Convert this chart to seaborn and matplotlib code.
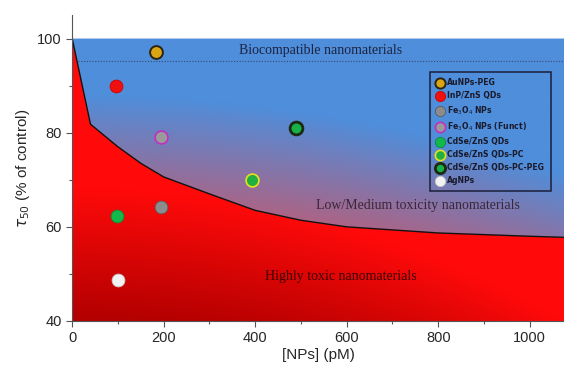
import numpy as np
import matplotlib
matplotlib.use('Agg')
import matplotlib.pyplot as plt
from matplotlib.patches import Polygon
from matplotlib.colors import to_rgb
import seaborn as sns

# nanoparticle points
names = ['AuNPs-PEG', 'InP/ZnS QDs', r'Fe$_3$O$_4$ NPs', r'Fe$_3$O$_4$ NPs (Funct)',
         'CdSe/ZnS QDs', 'CdSe/ZnS QDs-PC', 'CdSe/ZnS QDs-PC-PEG', 'AgNPs']
conc = [183, 96, 194, 194, 98, 392, 490, 100]
tau50 = [97.2, 90.0, 64.2, 79.0, 62.2, 70.0, 81.0, 48.8]
face = ['#d9a514', '#f01010', '#8c8c8c', '#9a9a9a', '#12b84a', '#20b040', '#18b048', '#f2f2f2']
edge = ['#2a2410', '#d00000', '#5a5a5a', '#c030c0', '#0c8a38', '#e8e020', '#1c2a10', '#c8c8c8']
edgew = [1.4, 0.6, 0.6, 1.2, 0.6, 1.2, 2.0, 0.6]

# border between highly toxic and low/medium toxicity regions
boundary_x = [0, 40, 100, 150, 200, 300, 400, 500, 600, 800, 1000, 1100]
boundary_y = [100, 81.8, 77.0, 73.5, 70.6, 67.0, 63.5, 61.4, 60.0, 58.7, 58.0, 57.7]

sns.set_style('ticks')
plt.rcParams['font.family'] = ['Liberation Sans', 'DejaVu Sans']

fig = plt.figure(figsize=(5.64, 3.75), dpi=100)
ax = fig.add_axes([0.128, 0.144, 0.872, 0.816])
ax.set_xlim(0, 1075)
ax.set_ylim(40, 105)

# gradient backgrounds
gx, gy = np.meshgrid(np.linspace(0, 1100, 300), np.linspace(40, 100, 200))
blue, rose = np.array(to_rgb('#4f8edb')), np.array(to_rgb('#c05a72'))
t = np.clip((88 - gy) / 28 - 0.6 * (gx / 1075) ** 2, 0, 1)[..., None]
img_blue = blue * (1 - t) + rose * t
dark, bright = np.array(to_rgb('#b20000')), np.array(to_rgb('#ff0a0a'))
s = np.clip((gy - 40) / 28 + (gx / 1075) ** 2, 0, 1)[..., None]
img_red = dark * (1 - s) + bright * s

bx = np.array(boundary_x)
by = np.array(boundary_y)
blue_poly = Polygon(np.column_stack([np.r_[bx, bx[-1], 0], np.r_[by, 100, 100]]),
                    closed=True, transform=ax.transData)
red_poly = Polygon(np.column_stack([np.r_[0, bx, bx[-1]], np.r_[40, by, 40]]),
                   closed=True, transform=ax.transData)
for img, poly in [(img_blue, blue_poly), (img_red, red_poly)]:
    im = ax.imshow(img, extent=(0, 1100, 40, 100), origin='lower', aspect='auto',
                   interpolation='bilinear', zorder=0)
    im.set_clip_path(poly)

sns.lineplot(x=boundary_x, y=boundary_y, color='#111111', lw=1.0, ax=ax, zorder=2)
ax.hlines(95.2, 13, 1100, linestyles=(0, (1, 1.5)), colors='#3a4870', lw=0.8, zorder=2)

for i in range(len(names)):
    sns.scatterplot(x=[conc[i]], y=[tau50[i]], s=85, color=face[i], edgecolor=edge[i],
                    linewidth=edgew[i], label=names[i], ax=ax, zorder=4)

ax.text(365, 97.5, 'Biocompatible nanomaterials', family='Liberation Serif',
        fontsize=10, color='#1c2340', va='center', zorder=3)
ax.text(533, 64.6, 'Low/Medium toxicity nanomaterials', family='Liberation Serif',
        fontsize=10, color='#3a2638', va='center', zorder=3)
ax.text(421, 49.4, 'Highly toxic nanomaterials', family='Liberation Serif',
        fontsize=10, color='#3a0000', va='center', zorder=3)

leg = ax.legend(loc='upper left', bbox_to_anchor=(0.72, 0.826), frameon=True,
                fancybox=False, facecolor='none', edgecolor='#1a1f3a',
                prop={'family': 'DejaVu Sans', 'weight': 'bold', 'size': 5.6},
                labelspacing=0.5, handletextpad=0.4, borderpad=0.8,
                handlelength=1.0, markerscale=0.8)
leg.get_frame().set_linewidth(1.1)
leg.get_frame().set_alpha(None)
for txt in leg.get_texts():
    txt.set_color('#1a1a2a')
leg.set_zorder(5)

ax.set_xticks([0, 200, 400, 600, 800, 1000])
ax.set_yticks([40, 60, 80, 100])
ax.set_xticks(range(100, 1100, 200), minor=True)
ax.set_yticks([50, 70, 90], minor=True)
ax.tick_params(axis='both', which='major', labelsize=10.5, length=4, width=0.8, color='#555555')
ax.tick_params(axis='both', which='minor', length=2.5, width=0.8, color='#555555')
ax.set_xlabel('[NPs] (pM)', fontsize=11, labelpad=2)
ax.set_ylabel(r'$\tau_{50}$ (% of control)', fontsize=11, labelpad=4)
sns.despine(ax=ax)
for sp in ['left', 'bottom']:
    ax.spines[sp].set_color('#555555')
    ax.spines[sp].set_linewidth(0.8)

fig.savefig('out.png', dpi=100)
